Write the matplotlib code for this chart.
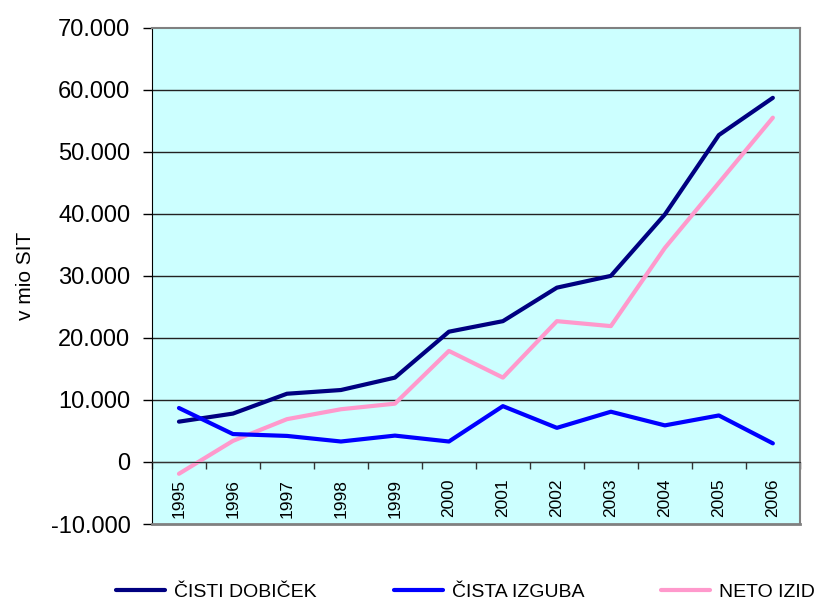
import matplotlib
matplotlib.use("Agg")
import matplotlib.pyplot as plt
from matplotlib import font_manager
import numpy as np

# Data (v mio SIT)
years = ['1995', '1996', '1997', '1998', '1999', '2000',
         '2001', '2002', '2003', '2004', '2005', '2006']
cisti_dobicek = [6500, 7800, 11000, 11600, 13600, 21000,
                 22700, 28100, 30000, 39900, 52700, 58700]
cista_izguba = [8700, 4500, 4200, 3300, 4250, 3300,
                9000, 5500, 8100, 5900, 7500, 3000]
neto_izid = [-1900, 3400, 6900, 8500, 9400, 17900,
             13600, 22700, 21900, 34500, 45000, 55500]
y_ticks = [-10000, 0, 10000, 20000, 30000, 40000, 50000, 60000, 70000]
y_labels = ['-10.000', '0', '10.000', '20.000', '30.000', '40.000',
            '50.000', '60.000', '70.000']

plt.rcParams['font.family'] = ['Liberation Sans', 'DejaVu Sans']

# legend text in the reference is condensed
names = {f.name for f in font_manager.fontManager.ttflist}
if 'Liberation Sans Narrow' in names:
    leg_family, leg_size = 'Liberation Sans Narrow', 17
else:
    leg_family, leg_size = 'Liberation Sans', 14

fig = plt.figure(figsize=(8.17, 6.03), dpi=100)
ax = fig.add_axes([0.186, 0.131, 0.793, 0.823])
ax.set_facecolor('#CCFFFF')

x = np.arange(len(years))

# gridlines
for t in y_ticks[1:-1]:
    ax.axhline(t, color='#222222', lw=1.0, zorder=1)

ax.plot(x, cisti_dobicek, color='#000080', lw=3, label='ČISTI DOBIČEK', zorder=3,
        solid_capstyle='round')
ax.plot(x, cista_izguba, color='#0000FF', lw=3, label='ČISTA IZGUBA', zorder=3,
        solid_capstyle='round')
ax.plot(x, neto_izid, color='#FF99CC', lw=3, label='NETO IZID', zorder=2,
        solid_capstyle='round')

ax.set_xlim(-0.5, len(years) - 0.5)
ax.set_ylim(-10000, 70000)

# y axis
ax.set_yticks(y_ticks)
ax.set_yticklabels(y_labels, fontsize=17)
ax.tick_params(axis='y', length=6.5, width=1, color='black', pad=9)
ax.set_ylabel('v mio SIT', fontsize=15)
ax.yaxis.set_label_coords(-0.18, 0.5)

# category axis sits on zero
ax.spines['bottom'].set_position(('data', 0))
ax.spines['bottom'].set_color('#333333')
ax.spines['left'].set_color('black')
ax.spines['top'].set_color('#808080')
ax.spines['right'].set_color('#808080')
for s in ['top', 'right']:
    ax.spines[s].set_linewidth(1.5)
ax.axhline(-10000, color='#808080', lw=2, zorder=4, clip_on=False)

ax.set_xticks(x)
ax.set_xticklabels(years, rotation=90, fontsize=12.5)
ax.tick_params(axis='x', which='major', length=0, pad=12)
ax.set_xticks(np.arange(-0.5, len(years), 1.0), minor=True)
ax.tick_params(axis='x', which='minor', length=5, width=1, color='#333333')

fontsize_px = leg_size * 100 / 72
fig.legend(loc='center left', bbox_to_anchor=(116 / 817, 0.018), ncol=3,
           frameon=False, prop={'family': leg_family, 'size': leg_size},
           handlelength=49 / fontsize_px, handletextpad=9 / fontsize_px,
           columnspacing=77 / fontsize_px, borderpad=0, borderaxespad=0,
           bbox_transform=fig.transFigure)

fig.savefig('out.png', dpi=100)
